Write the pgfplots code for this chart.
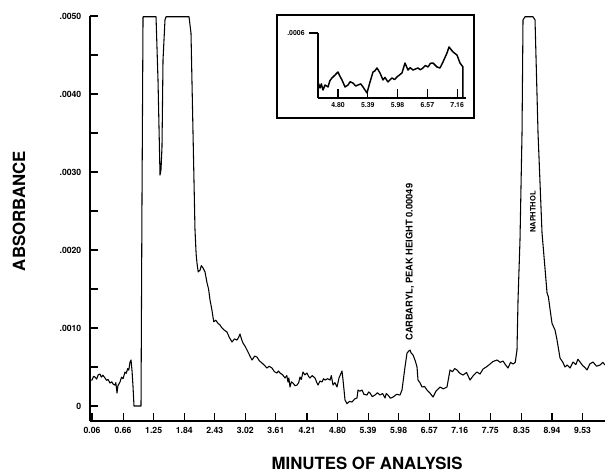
\documentclass[border=0pt]{standalone}
\usepackage{fontspec}
\setmainfont{TeX Gyre Heros}
\usepackage{pgfplots}
\pgfplotsset{compat=1.18}
\begin{document}
\begin{tikzpicture}
\useasboundingbox (-67.5pt,-39pt) rectangle (386.25pt,315.75pt);
\begin{axis}[
  at={(0pt,0pt)}, anchor=south west,
  width=386.25pt, height=303.75pt, scale only axis,
  xmin=0.0214, xmax=9.963, ymin=-0.000192, ymax=0.0050,
  axis x line*=bottom, axis y line*=left,
  axis line style={line width=0.8pt},
  clip=false,
  tick align=inside,
  major tick length=6pt, minor tick length=6pt,
  every tick/.style={line width=0.8pt, black},
  /pgf/number format/assume math mode=true,
  xtick={0.06,0.66,1.25,1.84,2.43,3.02,3.61,4.21,4.80,5.39,5.98,6.57,7.16,7.75,8.35,8.94,9.53},
  xticklabels={0.06,0.66,1.25,1.84,2.43,3.02,3.61,4.21,4.80,5.39,5.98,6.57,7.16,7.75,8.35,8.94,9.53},
  ytick={0,0.001,0.002,0.003,0.004,0.005},
  yticklabels={0,.0010,.0020,.0030,.0040,.0050},
  minor ytick={0.0005,0.0015,0.0025,0.0035,0.0045},
  scaled y ticks=false,
  tick label style={font=\fontsize{6.5}{7}\selectfont\bfseries},
  yticklabel style={xshift=-3pt},
  xticklabel style={yshift=-1pt},
  xlabel={MINUTES OF ANALYSIS},
  xlabel style={at={(axis description cs:0.538,-0.1037)}, anchor=center, font=\fontsize{12.6}{13}\selectfont\bfseries},
  ylabel={ABSORBANCE},
  ylabel style={at={(axis description cs:-0.1379,0.5185)}, anchor=center, rotate=0, font=\fontsize{12.6}{13}\selectfont\bfseries},
]
\addplot[black, line width=0.8pt, line join=round] table {
0.021 0.000077
0.021 0.000333
0.06 0.000333
0.09 0.000380
0.118 0.000372
0.15 0.000345
0.18 0.000400
0.214 0.000410
0.24 0.000370
0.27 0.000395
0.311 0.000359
0.34 0.000330
0.37 0.000340
0.407 0.000295
0.44 0.000310
0.47 0.000280
0.504 0.000269
0.52 0.000300
0.543 0.000167
0.56 0.000260
0.601 0.000308
0.63 0.000370
0.66 0.000350
0.697 0.000436
0.72 0.000420
0.75 0.000480
0.77 0.000460
0.794 0.000564
0.813 0.000590
0.833 0.000450
0.852 0.000244
0.871 0.0
1.006 0.0
1.025 0.00264
1.045 0.00499
1.296 0.00499
1.334 0.00418
1.373 0.00296
1.392 0.00303
1.411 0.00332
1.431 0.00444
1.469 0.00495
1.489 0.00499
1.933 0.00499
1.971 0.00478
2.010 0.00350
2.048 0.00226
2.070 0.00195
2.087 0.00183
2.11 0.00172
2.145 0.00174
2.17 0.00180
2.203 0.00177
2.241 0.00172
2.280 0.00158
2.31 0.00150
2.338 0.00136
2.37 0.00125
2.396 0.00114
2.41 0.00108
2.45 0.00110
2.492 0.00106
2.53 0.00104
2.570 0.00100
2.62 0.00097
2.666 0.000949
2.71 0.000880
2.763 0.000821
2.81 0.000860
2.859 0.000846
2.89 0.000880
2.917 0.000923
2.95 0.000850
2.975 0.000808
3.02 0.000760
3.072 0.000692
3.11 0.000640
3.149 0.000590
3.20 0.000640
3.245 0.000628
3.29 0.000580
3.342 0.000551
3.39 0.000520
3.438 0.000487
3.48 0.000510
3.535 0.000487
3.58 0.000440
3.631 0.000423
3.66 0.000450
3.689 0.000423
3.74 0.000400
3.786 0.000359
3.82 0.000390
3.844 0.000308
3.86 0.000360
3.882 0.000244
3.91 0.000310
3.940 0.000295
3.98 0.000260
4.018 0.000269
4.05 0.000300
4.075 0.000372
4.10 0.000340
4.133 0.000436
4.17 0.000400
4.210 0.000423
4.24 0.000380
4.268 0.000359
4.31 0.000390
4.365 0.000359
4.40 0.000300
4.423 0.000269
4.46 0.000320
4.500 0.000308
4.53 0.000350
4.558 0.000333
4.61 0.000350
4.655 0.000333
4.68 0.000390
4.712 0.000269
4.75 0.000300
4.790 0.000244
4.828 0.000359
4.886 0.000449
4.906 0.000333
4.944 0.000077
4.983 0.000030
5.03 0.000060
5.079 0.000051
5.13 0.000090
5.176 0.000103
5.195 0.000205
5.23 0.000190
5.272 0.000205
5.31 0.000150
5.369 0.000141
5.40 0.000180
5.427 0.000167
5.47 0.000120
5.523 0.000141
5.57 0.000170
5.620 0.000141
5.67 0.000160
5.716 0.000103
5.74 0.000160
5.774 0.000141
5.82 0.000100
5.871 0.000115
5.94 0.000150
6.006 0.000141
6.044 0.000205
6.102 0.000500
6.141 0.000679
6.17 0.000700
6.199 0.000718
6.22 0.000680
6.257 0.000654
6.30 0.000580
6.334 0.000500
6.353 0.000333
6.39 0.000300
6.431 0.000244
6.48 0.000250
6.527 0.000205
6.58 0.000170
6.643 0.000115
6.70 0.000190
6.778 0.000244
6.84 0.000220
6.913 0.000244
6.971 0.000462
7.02 0.000440
7.06 0.000480
7.106 0.000462
7.16 0.000420
7.222 0.000397
7.29 0.000430
7.357 0.000333
7.42 0.000390
7.492 0.000436
7.55 0.000410
7.608 0.000474
7.67 0.000500
7.743 0.000538
7.80 0.000570
7.878 0.000590
7.94 0.000560
7.994 0.000577
8.04 0.000530
8.091 0.000487
8.14 0.000560
8.187 0.000538
8.23 0.000560
8.264 0.000718
8.284 0.00136
8.322 0.00213
8.361 0.00350
8.380 0.00495
8.419 0.00499
8.573 0.00499
8.612 0.00495
8.670 0.00350
8.747 0.00222
8.800 0.00180
8.844 0.00145
8.87 0.00140
8.90 0.00125
8.940 0.00106
8.998 0.000974
9.037 0.000846
9.095 0.000615
9.15 0.000560
9.19 0.000500
9.230 0.000526
9.288 0.000487
9.346 0.000564
9.40 0.000530
9.44 0.000600
9.481 0.000564
9.53 0.000520
9.58 0.000490
9.616 0.000462
9.67 0.000540
9.732 0.000564
9.80 0.000510
9.867 0.000526
9.92 0.000560
9.963 0.000526
};
\node[rotate=90, font=\fontsize{7}{8}\selectfont\bfseries] at (axis cs:6.199,0.001846) {CARBARYL, PEAK HEIGHT 0.00049};
\node[rotate=90, font=\fontsize{5.6}{6}\selectfont\bfseries] at (axis cs:8.573,0.002487) {NAPHTHOL};
\end{axis}
\draw[line width=1.1pt] (140.25pt,304.5pt) rectangle (288pt,227.25pt);
\begin{axis}[
  at={(171pt,242.25pt)}, anchor=south west,
  width=111pt, height=48.75pt, scale only axis,
  xmin=4.404, xmax=7.335, ymin=0, ymax=0.0006,
  axis x line*=bottom, axis y line*=left,
  axis line style={line width=1pt},
  clip=false,
  tick align=inside,
  major tick length=6.5pt,
  every tick/.style={line width=0.8pt, black},
  ytick style={xshift=-6.5pt},
  /pgf/number format/assume math mode=true,
  xtick={4.80,5.39,5.98,6.57,7.16},
  xticklabels={4.80,5.39,5.98,6.57,7.16},
  ytick={0.0006}, yticklabels={.0006},
  scaled y ticks=false,
  tick label style={font=\fontsize{5.2}{6}\selectfont\bfseries},
  yticklabel style={xshift=-6.5pt},
]
\addplot[black, line width=1.1pt, line join=round] table {
4.404 0.000148
4.444 0.0000923
4.47 0.000130
4.503 0.0000738
4.543 0.000120
4.602 0.000102
4.64 0.000160
4.681 0.000185
4.741 0.000212
4.800 0.000240
4.84 0.000200
4.879 0.000166
4.939 0.000102
4.998 0.000120
5.04 0.000150
5.097 0.000138
5.15 0.000110
5.196 0.000120
5.25 0.000130
5.295 0.000102
5.374 0.0000462
5.434 0.000148
5.493 0.000240
5.53 0.000250
5.572 0.000277
5.632 0.000231
5.691 0.000166
5.73 0.000190
5.790 0.000148
5.869 0.000185
5.92 0.000170
5.968 0.000194
6.067 0.000231
6.127 0.000323
6.186 0.000258
6.23 0.000280
6.285 0.000258
6.384 0.000277
6.43 0.000260
6.483 0.000277
6.53 0.000300
6.582 0.000286
6.63 0.000320
6.681 0.000323
6.760 0.000286
6.820 0.000277
6.879 0.000332
6.958 0.000415
6.998 0.000471
7.077 0.000425
7.156 0.000397
7.216 0.000323
7.275 0.000286
7.275 0.0
};
\end{axis}
\end{tikzpicture}
\end{document}
